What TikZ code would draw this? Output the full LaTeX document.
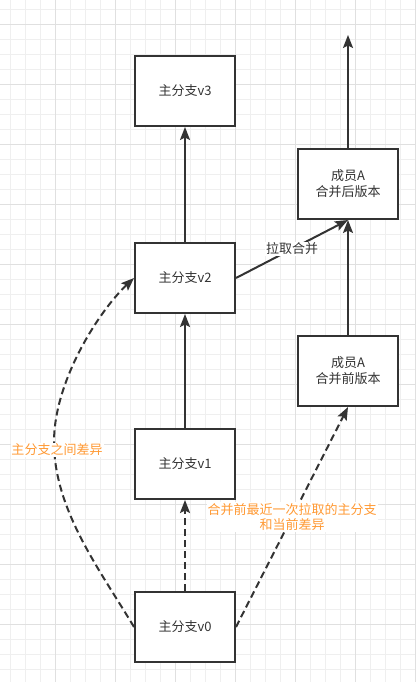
\documentclass[tikz,border=0pt]{standalone}
\usepackage{fontspec}
\setmainfont{Noto Sans CJK SC}
\usetikzlibrary{arrows.meta}
\definecolor{ink}{HTML}{333333}
\definecolor{orng}{HTML}{FF9933}
\definecolor{gminor}{HTML}{EFEFEF}
\definecolor{gmajor}{HTML}{E0E0E0}
\begin{document}
\begin{tikzpicture}[x=1pt,y=-1pt,
 box/.style={draw=ink, line width=2pt, fill=white, minimum width=100pt, minimum height=70pt, inner sep=0pt, align=center, text=ink, font=\fontsize{13}{15.8}\selectfont},
 conn/.style={draw=ink, line width=2pt, -{Stealth[length=13pt,width=10pt,inset=2.5pt]}},
 dconn/.style={conn, dash pattern=on 7pt off 4pt},
 elab/.style={fill=white, inner sep=1pt, text=ink, font=\fontsize{13}{15.8}\selectfont, align=center},
 olab/.style={elab, text=orng}]
\useasboundingbox (0,0) rectangle (416,682);
\fill[white] (0,0) rectangle (416,682);
% grid
\foreach \i in {0,...,27} \draw[gminor, line width=1pt] ({10.7+15*\i},0) -- ++(0,682);
\foreach \j in {0,...,44} \draw[gminor, line width=1pt] (0,{9.3+15*\j}) -- ++(416,0);
\foreach \i in {0,...,6} \draw[gmajor, line width=1pt] ({55.7+60*\i},0) -- ++(0,682);
\foreach \j in {0,...,10} \draw[gmajor, line width=1pt] (0,{24.3+60*\j}) -- ++(416,0);
% nodes
\node[box] (v3) at (185,91) {主分支v3};
\node[box] (v2) at (185,278) {主分支v2};
\node[box] (v1) at (185,464) {主分支v1};
\node[box] (v0) at (185,627) {主分支v0};
\node[box] (post) at (348,184) {成员A\\合并后版本};
\node[box] (pre) at (348,371) {成员A\\合并前版本};
\coordinate (top) at (348,35);
\coordinate (lm) at (54,442);
% connectors
\draw[conn] (v2) -- (v3);
\draw[conn] (v1) -- (v2);
\draw[dconn] (v0) -- (v1);
\draw[conn] (pre) -- (post);
\draw[conn] (post) -- (top);
\draw[conn] (v2.east) -- node[elab] (lpull) {拉取合并} (post.south);
\draw[dconn] (v0.east) -- node[olab] (ldiff) {合并前最近一次拉取的主分支\\和当前差异} (pre.south);
\draw[dconn] (v0.west) .. controls (100,570) and (54,510) .. (lm) .. controls (54,380) and (100,310) .. (v2.west);
\node[olab] (lmain) at (57,450) {主分支之间差异};
\end{tikzpicture}
\end{document}
